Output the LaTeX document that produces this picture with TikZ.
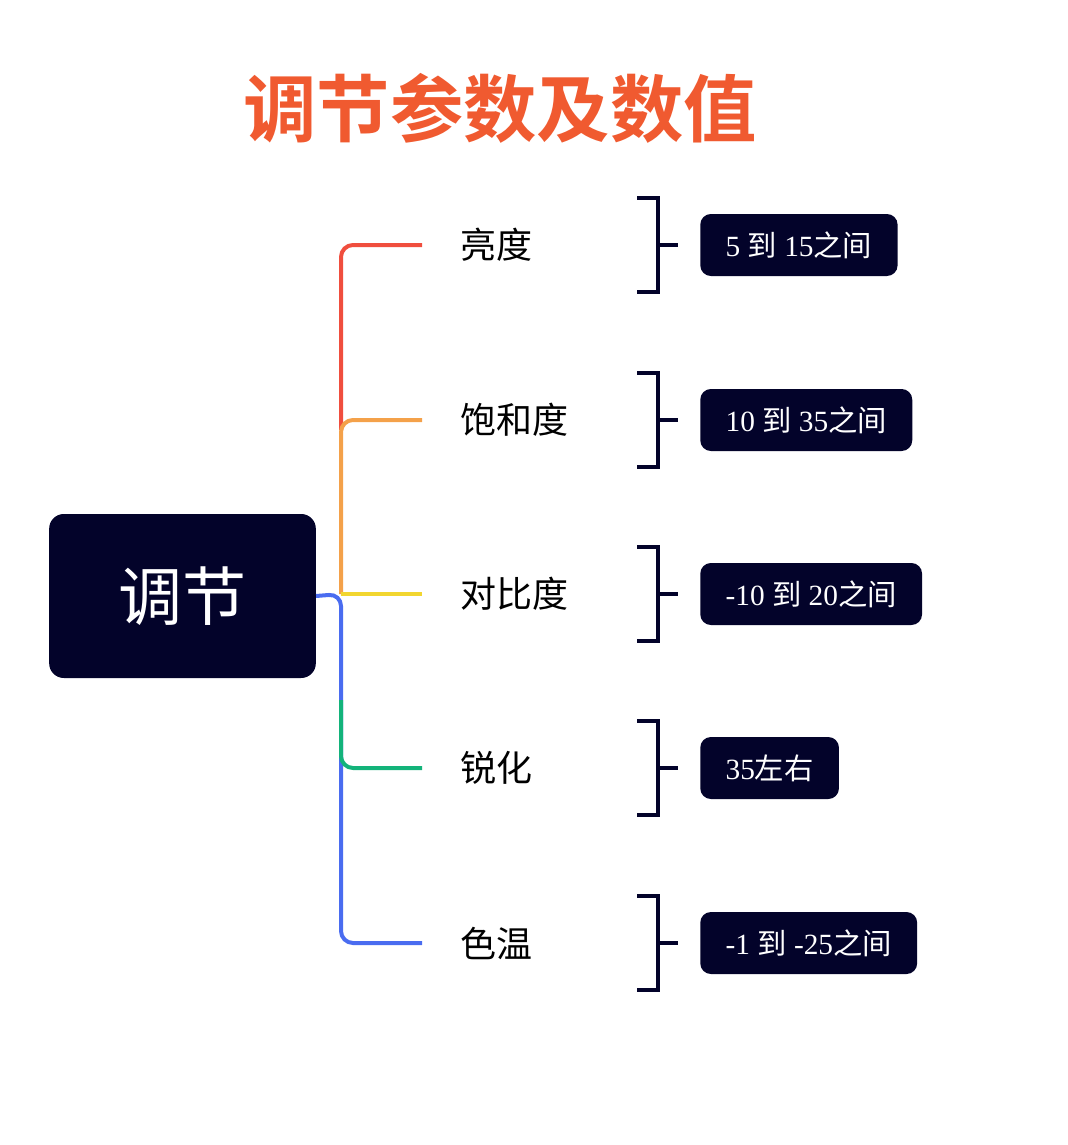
\documentclass[tikz,border=0pt]{standalone}
\usepackage{fontspec}
\setmainfont{Liberation Serif}
\newfontfamily\cjk{Noto Sans CJK SC}
\newfontfamily\cjkb{Noto Sans CJK SC Bold}
\definecolor{navy}{HTML}{03032A}
\definecolor{cr}{HTML}{F04E3E}
\definecolor{co}{HTML}{F4A14A}
\definecolor{cy}{HTML}{F2D630}
\definecolor{cg}{HTML}{13B37A}
\definecolor{cb}{HTML}{4A6CF0}
\definecolor{ttl}{HTML}{F05A30}
\begin{document}
\begin{tikzpicture}[x=0.75pt,y=-0.75pt,
 br/.style={line width=3pt,rounded corners=9pt},
 lab/.style={anchor=west,font=\cjk\fontsize{27}{30}\selectfont,inner sep=0},
 val/.style={anchor=west,fill=navy,text=white,rounded corners=8pt,minimum height=46.5pt,inner xsep=19pt,font=\fontsize{22}{24}\selectfont},
 brk/.style={line width=2.3pt,navy}]
\useasboundingbox (0,0) rectangle (1067,1145);
\node[font=\cjkb\fontsize{55}{58}\selectfont,text=ttl] (title) at (500,108) {调节参数及数值};
\node[fill=navy,rounded corners=11pt,minimum width=200pt,minimum height=123pt,text=white,font=\cjk\fontsize{48}{52}\selectfont] (root) at (182.5,596) {调节};
\draw[br,cr] (341,430) -- (341,245) -- (422,245);
\draw[br,co] (341,594) -- (341,420) -- (422,420);
\draw[br,cb] (root.east) -- (341,594) -- (341,943) -- (422,943);
\draw[br,cg] (341,700) -- (341,768) -- (422,768);
\draw[line width=3pt,cy] (341,594) -- (422,594);
\foreach \y/\l/\v/\n in {245/亮度/{5 {\cjk 到} 15{\cjk 之间}}/a,420/饱和度/{10 {\cjk 到} 35{\cjk 之间}}/b,594/对比度/{-10 {\cjk 到} 20{\cjk 之间}}/c,768/锐化/{35{\cjk 左右}}/d,943/色温/{-1 {\cjk 到} -25{\cjk 之间}}/e}{
 \node[lab] (l\n) at (460,\y) {\l};
 \draw[brk] (637,\y-47) -- (658,\y-47) -- (658,\y+47) -- (637,\y+47);
 \draw[brk] (658,\y) -- (678,\y);
 \node[val] (v\n) at (700,\y) {\v};
}
\end{tikzpicture}
\end{document}
